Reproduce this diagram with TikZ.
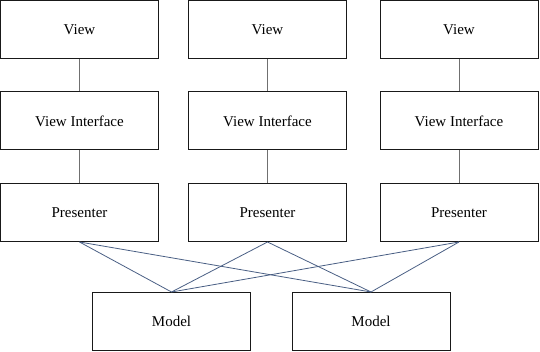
\documentclass[tikz,border=0pt]{standalone}
\usepackage{fontspec}
\setmainfont{Liberation Serif}
\usepackage{tikz}
\usetikzlibrary{positioning, calc}

\definecolor{linkgray}{HTML}{707070}
\definecolor{linkblue}{HTML}{4A5F84}

\begin{document}
\begin{tikzpicture}[x=1pt, y=1pt,
    box/.style={draw=black!90, line width=1pt, minimum width=158pt, minimum height=58pt, inner sep=0pt, font=\fontsize{15}{18}\selectfont},
    uplink/.style={draw=linkgray, line width=0.8pt},
    modellink/.style={draw=linkblue, line width=0.8pt}]
    \useasboundingbox (0,0) rectangle (540,352);

    % Views
    \node[box] (view1) at (79.5,322.5) {View};
    \node[box] (view2) at (267.5,322.5) {View};
    \node[box] (view3) at (459,322.5) {View};

    % View interfaces
    \node[box] (vi1) at (79.5,231) {View Interface};
    \node[box] (vi2) at (267.5,231) {View Interface};
    \node[box] (vi3) at (459,231) {View Interface};

    % Presenters
    \node[box] (pres1) at (79.5,139.5) {Presenter};
    \node[box] (pres2) at (267.5,139.5) {Presenter};
    \node[box] (pres3) at (459,139.5) {Presenter};

    % Models
    \node[box] (model1) at (171.5,30.5) {Model};
    \node[box] (model2) at (371,30.5) {Model};

    % View -- interface -- presenter
    \draw[uplink] (view1) -- (vi1) -- (pres1);
    \draw[uplink] (view2) -- (vi2) -- (pres2);
    \draw[uplink] (view3) -- (vi3) -- (pres3);

    % Presenters to models
    \draw[modellink] (pres1.south) -- (model1.north);
    \draw[modellink] (pres1.south) -- (model2.north);
    \draw[modellink] (pres2.south) -- (model1.north);
    \draw[modellink] (pres2.south) -- (model2.north);
    \draw[modellink] (pres3.south) -- (model1.north);
    \draw[modellink] (pres3.south) -- (model2.north);
\end{tikzpicture}
\end{document}
